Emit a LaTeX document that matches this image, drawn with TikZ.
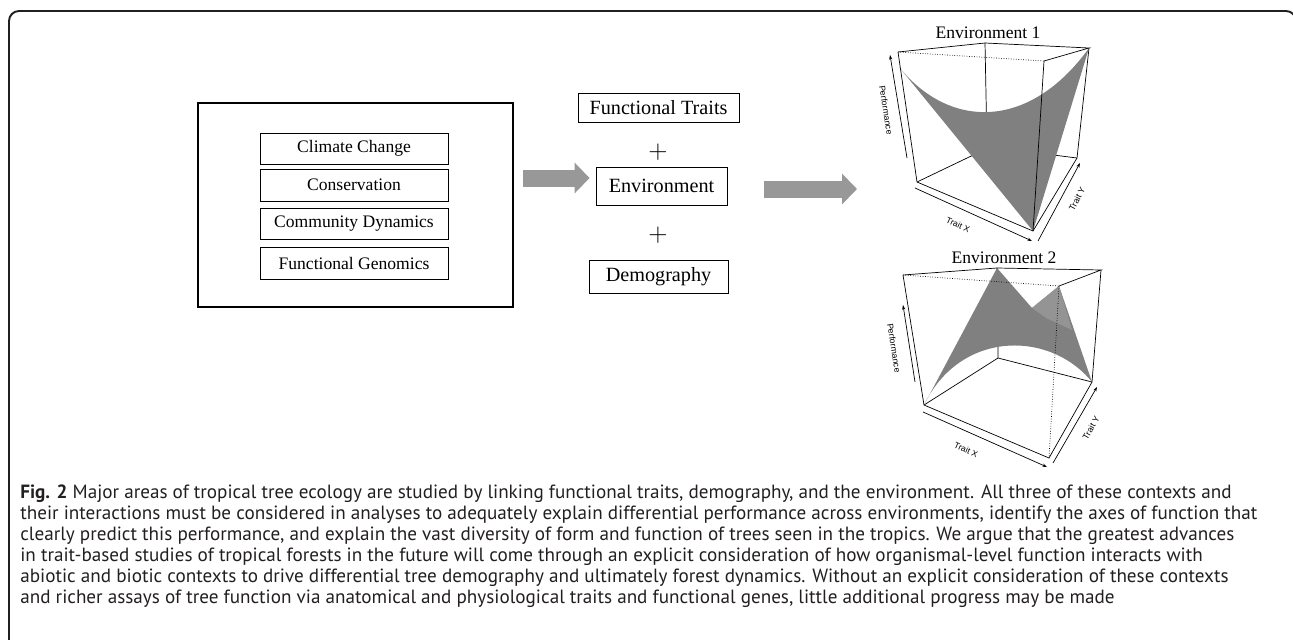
\documentclass[tikz,border=0pt]{standalone}
\usepackage{fontspec}
\setmainfont{Liberation Serif}
\newfontfamily\capfont{PT Sans}
\newfontfamily\axisfont{Liberation Sans}
\usetikzlibrary{arrows.meta,positioning}
\definecolor{arrowgray}{RGB}{152,152,152}
\definecolor{surfgray}{RGB}{128,128,128}
\definecolor{surflight}{RGB}{148,148,148}
\definecolor{inkcolor}{RGB}{35,31,32}

\begin{document}
\begin{tikzpicture}[x=0.02cm,y=-0.02cm,
			topicbox/.style={
				draw,
				line width=0.5pt,
				minimum width=3.76cm,
				minimum height=0.62cm,
				inner sep=0pt,
				font=\fontsize{10}{12}\selectfont
			},
			factorbox/.style={
				draw,
				line width=0.5pt,
				inner sep=0pt,
				font=\fontsize{11.5}{13}\selectfont
			},
			bigarrow/.style={
				-{Triangle[length=0.3cm,width=0.6cm]},
				draw=arrowgray,
				line width=0.34cm
			},
			axisarrow/.style={
				-{Stealth[length=2.6pt,width=1.8pt]},
				line width=0.4pt
			},
			axislabel/.style={
				inner sep=0pt,
				font=\axisfont\fontsize{4.9}{5}\selectfont
			},
			edge/.style={line width=0.4pt},
			hidden/.style={line width=0.4pt,densely dotted}
		]
			\useasboundingbox (0,0) rectangle (1293,639);
			
			% frame
			\draw[inkcolor,line width=1.1pt,rounded corners=0.2cm]
				(9,660) -- (9,11) -- (1296,11) -- (1296,60);
			
			% research areas
			\node[draw,line width=1.6pt,minimum width=6.3cm,minimum height=4.08cm] (areas) at (355.5,205) {};
			\node[topicbox] (climate) at (354,148.5) {Climate Change};
			\node[topicbox,minimum height=0.64cm] (conserv) at (354,185) {Conservation};
			\node[topicbox] (community) at (354,223.5) {Community Dynamics};
			\node[topicbox,minimum height=0.64cm] (genomics) at (354,263) {Functional Genomics};
			
			% linked contexts
			\node[factorbox,minimum width=3.22cm,minimum height=0.58cm] (traits) at (658.5,107.5) {Functional Traits};
			\node[font=\fontsize{15}{15}\selectfont,inner sep=0pt] (plusa) at (658,152) {$+$};
			\node[factorbox,minimum width=2.62cm,minimum height=0.76cm] (env) at (661.5,186) {Environment};
			\node[font=\fontsize{15}{15}\selectfont,inner sep=0pt] (plusb) at (658,235) {$+$};
			\node[factorbox,minimum width=2.78cm,minimum height=0.66cm] (demo) at (658.5,276.5) {Demography};
			
			\coordinate (plotin) at (857,189);
			\draw[bigarrow] ([xshift=0.18cm,yshift=0.16cm]areas.east |- env.west) -- ([xshift=-0.12cm,yshift=0.16cm]env.west);
			\draw[bigarrow] ([xshift=0.74cm]env.east |- plotin) -- (plotin);
			
			% performance surface, environment 1
			\node[font=\fontsize{10}{12}\selectfont,inner sep=0pt] (envone) at (988,33) {Environment 1};
			\draw[edge] (917,182) -- (990,147) -- (1077,158);
			\draw[edge] (985,43) -- (987,147);
			\fill[surfgray] (899,67) .. controls (950,130) and (1030,130) .. (1089,48) -- (1033,231) -- cycle;
			\draw[edge] (898,52) -- (985,43) -- (1089,48) -- (1044,61);
			\draw[hidden] (898,52) -- (1044,61);
			\draw[edge] (898,52) -- (917,182) -- (1033,231) -- (1077,158) -- (1089,48);
			\draw[edge] (1044,61) -- (1033,231);
			\draw[axisarrow] (907,158) -- (890,55);
			\node[axislabel,rotate=-81] (perfone) at (886,110) {Performance};
			\draw[axisarrow] (915,188) -- (1032,241);
			\node[axislabel,rotate=-24] (trxone) at (958,225) {Trait X};
			\draw[axisarrow] (1038,241) -- (1080,163);
			\node[axislabel,rotate=62] (tryone) at (1077,199) {Trait Y};
			
			% performance surface, environment 2
			\node[font=\fontsize{10}{12}\selectfont,inner sep=0pt] (envtwo) at (1004,258) {Environment 2};
			\draw[edge] (924,405) -- (998,358) -- (1092,382);
			\draw[edge] (997,268) -- (998,358);
			\fill[surfgray] (924,405) -- (997,268) -- (1032,308) -- (1059,286) -- (1092,382)
				.. controls (1050,330) and (960,330) .. cycle;
			\fill[surflight] (1032,308) -- (1059,286) -- (1072,330) -- (1046,318) -- cycle;
			\draw[edge] (903,275) -- (997,268) -- (1101,270) -- (1059,286);
			\draw[hidden] (903,275) -- (1059,286);
			\draw[edge] (903,275) -- (924,405) -- (1049,458) -- (1092,382) -- (1101,270);
			\draw[hidden] (1059,286) -- (1049,458);
			\draw[axisarrow] (915,382) -- (903,305);
			\node[axislabel,rotate=-81] (perftwo) at (894,348) {Performance};
			\draw[axisarrow] (923,412) -- (1047,467);
			\node[axislabel,rotate=-24] (trxtwo) at (966,450) {Trait X};
			\draw[axisarrow] (1053,463) -- (1097,387);
			\node[axislabel,rotate=60] (trytwo) at (1091,428) {Trait Y};
			
			% caption
			\node[anchor=north west,inner sep=0pt,align=left,text=inkcolor,
				font=\capfont\fontsize{10.9}{11.95}\selectfont] (caption) at (20,484) {
				\textbf{Fig. 2} Major areas of tropical tree ecology are studied by linking functional traits, demography, and the environment. All three of these contexts and\\
				their interactions must be considered in analyses to adequately explain differential performance across environments, identify the axes of function that\\
				clearly predict this performance, and explain the vast diversity of form and function of trees seen in the tropics. We argue that the greatest advances\\
				in trait-based studies of tropical forests in the future will come through an explicit consideration of how organismal-level function interacts with\\
				abiotic and biotic contexts to drive differential tree demography and ultimately forest dynamics. Without an explicit consideration of these contexts\\
				and richer assays of tree function via anatomical and physiological traits and functional genes, little additional progress may be made
			};
			
		\end{tikzpicture}
\end{document}
